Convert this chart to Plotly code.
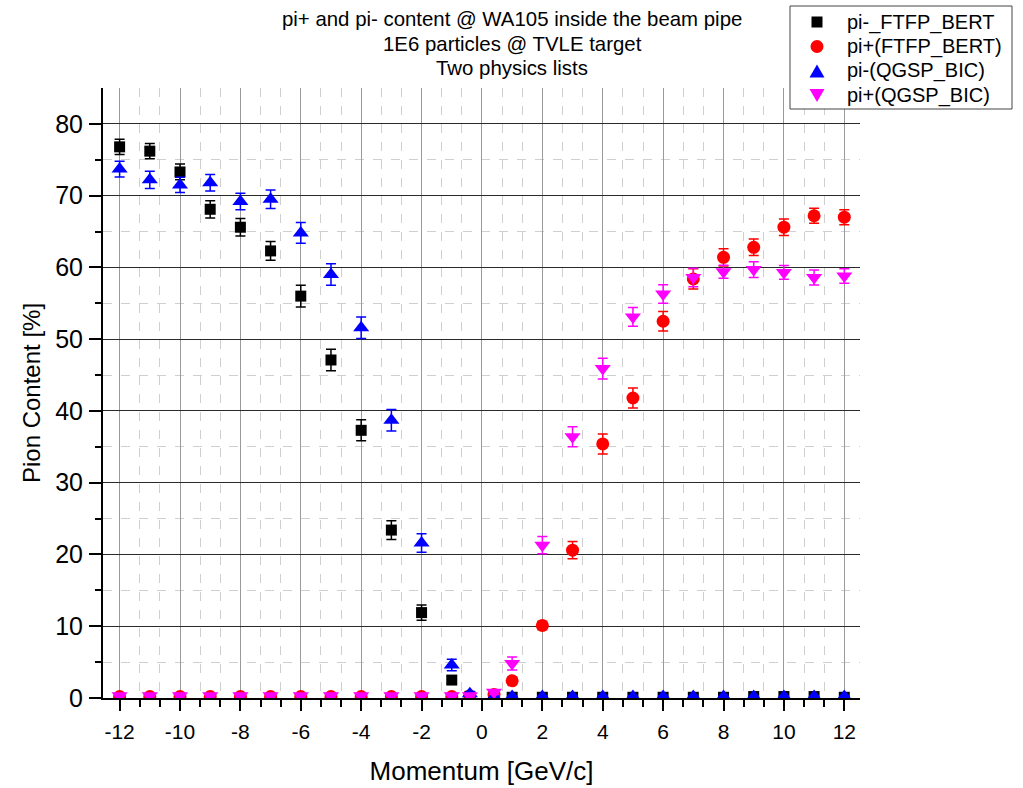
import numpy as np
import plotly.graph_objects as go

# Momentum settings [GeV/c]
momentum = [-12, -11, -10, -9, -8, -7, -6, -5, -4, -3, -2, -1, -0.4,
            0.4, 1, 2, 3, 4, 5, 6, 7, 8, 9, 10, 11, 12]

# Pion content [%] for each physics list
pim_ftfp = [76.8, 76.2, 73.3, 68.1, 65.6, 62.3, 56.0, 47.1, 37.3, 23.4, 11.9, 2.5, 0.2,
            0.1, 0.1, 0.1, 0.1, 0.1, 0.1, 0.1, 0.1, 0.1, 0.2, 0.2, 0.2, 0.1]
pim_ftfp_err = [1.05, 1.05, 1.1, 1.2, 1.23, 1.3, 1.5, 1.5, 1.46, 1.3, 1.05, 0.5, 0.1,
                0.1, 0.1, 0.1, 0.1, 0.1, 0.1, 0.1, 0.1, 0.1, 0.1, 0.1, 0.1, 0.1]

pip_ftfp = [0.2, 0.2, 0.2, 0.2, 0.2, 0.2, 0.2, 0.2, 0.2, 0.2, 0.2, 0.2, 0.3,
            0.5, 2.4, 10.1, 20.6, 35.4, 41.8, 52.5, 58.4, 61.4, 62.8, 65.6, 67.2, 67.0]
pip_ftfp_err = [0.1, 0.1, 0.1, 0.1, 0.1, 0.1, 0.1, 0.1, 0.1, 0.1, 0.1, 0.1, 0.1,
                0.2, 0.5, 0.6, 1.2, 1.4, 1.4, 1.35, 1.4, 1.2, 1.15, 1.15, 1.05, 1.05]

pim_qgsp = [73.7, 72.2, 71.5, 71.8, 69.2, 69.5, 64.8, 59.0, 51.6, 38.7, 21.6, 4.6, 0.6,
            0.2, 0.2, 0.2, 0.2, 0.2, 0.2, 0.2, 0.2, 0.2, 0.2, 0.2, 0.2, 0.2]
pim_qgsp_err = [1.1, 1.2, 1.05, 1.15, 1.15, 1.3, 1.45, 1.5, 1.5, 1.5, 1.3, 0.8, 0.3,
                0.1, 0.1, 0.1, 0.1, 0.1, 0.1, 0.1, 0.1, 0.1, 0.1, 0.1, 0.1, 0.1]

pip_qgsp = [0.3, 0.3, 0.3, 0.3, 0.3, 0.3, 0.3, 0.3, 0.3, 0.3, 0.3, 0.3, 0.3,
            0.8, 4.8, 21.3, 36.4, 45.9, 53.1, 56.3, 58.6, 59.4, 59.7, 59.3, 58.6, 58.8]
pip_qgsp_err = [0.1, 0.1, 0.1, 0.1, 0.1, 0.1, 0.1, 0.1, 0.1, 0.1, 0.1, 0.1, 0.1,
                0.3, 0.9, 1.2, 1.4, 1.45, 1.3, 1.3, 1.3, 0.9, 1.1, 0.95, 1.05, 1.0]

x_tick_vals = [-12, -10, -8, -6, -4, -2, 0, 2, 4, 6, 8, 10, 12]
x_tick_text = ["-12", "-10", "-8", "-6", "-4", "-2", "0", "2", "4", "6", "8", "10", "12"]
y_tick_vals = [0, 10, 20, 30, 40, 50, 60, 70, 80]

title_lines = ["pi+ and pi- content @ WA105 inside the beam pipe",
               "1E6 particles @ TVLE target",
               "Two physics lists"]

FONT = "Liberation Sans, Arial, sans-serif"

series = [
    ("pi-_FTFP_BERT", pim_ftfp, pim_ftfp_err, "black", "square", 11),
    ("pi+(FTFP_BERT)", pip_ftfp, pip_ftfp_err, "#ff0000", "circle", 13),
    ("pi-(QGSP_BIC)", pim_qgsp, pim_qgsp_err, "#0000ff", "triangle-up", 14),
    ("pi+(QGSP_BIC)", pip_qgsp, pip_qgsp_err, "#ff00ff", "triangle-down", 14),
]

# page size and plot-area margins (pixels)
W, H = 1023, 788
L, R, T, B = 103, 163, 88, 90
pw, ph = W - L - R, H - T - B


def px(x):
    """page pixel column -> paper x"""
    return (x - L) / pw


def py(y):
    """page pixel row (from top) -> paper y"""
    return (H - B - y) / ph


fig = go.Figure()
for name, vals, errs, color, symbol, size in series:
    fig.add_trace(go.Scatter(
        x=momentum, y=vals, name=name, mode="markers", showlegend=False,
        marker=dict(symbol=symbol, size=size, color=color, line=dict(width=0)),
        error_y=dict(type="data", array=errs, visible=True, color=color,
                     thickness=1.5, width=5),
    ))

# Legend box in the top-right corner
leg_left, leg_right, leg_top, leg_bottom = 790, 1012, 6, 109
leg_rows = [22, 46.5, 71, 95.5]
kx, leg_text_x = 817, 845
fig.add_shape(type="rect", xref="paper", yref="paper",
              x0=px(leg_left), x1=px(leg_right), y0=py(leg_bottom), y1=py(leg_top),
              line=dict(color="#444444", width=1), fillcolor="white", layer="above")


def key_shape(symbol, color, cy):
    if symbol == "square":
        h = 5.5
        return dict(type="rect", x0=px(kx - h), x1=px(kx + h), y0=py(cy + h), y1=py(cy - h))
    if symbol == "circle":
        r = 6.5
        return dict(type="circle", x0=px(kx - r), x1=px(kx + r), y0=py(cy + r), y1=py(cy - r))
    hw, hh = 7.5, 6.5
    if symbol == "triangle-up":
        pts = [(kx - hw, cy + hh), (kx + hw, cy + hh), (kx, cy - hh)]
    else:
        pts = [(kx - hw, cy - hh), (kx + hw, cy - hh), (kx, cy + hh)]
    path = "M " + " L ".join(f"{px(a):.5f},{py(b):.5f}" for a, b in pts) + " Z"
    return dict(type="path", path=path)


for (name, _, _, color, symbol, _), row in zip(series, leg_rows):
    shp = key_shape(symbol, color, row)
    shp.update(xref="paper", yref="paper", fillcolor=color,
               line=dict(width=0, color=color), layer="above")
    fig.add_shape(**shp)
    fig.add_annotation(text=name, xref="paper", yref="paper", x=px(leg_text_x), y=py(row),
                       xanchor="left", yanchor="middle", showarrow=False,
                       font=dict(family=FONT, size=20, color="black"))

# three-line title centred over the page
for line, row in zip(title_lines, [19, 44, 68]):
    fig.add_annotation(text=line, xref="paper", yref="paper", x=px(512), y=py(row),
                       xanchor="center", yanchor="middle", showarrow=False,
                       font=dict(family=FONT, size=20.4, color="black"))

x_minor = [v for v in np.arange(-12, 12.01, 2 / 3) if abs(v / 2 - round(v / 2)) > 0.05]
y_minor = [5, 15, 25, 35, 45, 55, 65, 75]

fig.update_layout(
    xaxis=dict(
        range=[-12.55, 12.52], tickmode="array", tickvals=x_tick_vals, ticktext=x_tick_text,
        showline=True, linecolor="black", linewidth=2, zeroline=False,
        ticks="outside", ticklen=11, tickwidth=2, tickcolor="black",
        showgrid=True, gridcolor="#9a9a9a", gridwidth=1,
        tickfont=dict(family=FONT, size=21, color="black"), ticklabelstandoff=3,
        title=dict(text="Momentum [GeV/c]", font=dict(family=FONT, size=26, color="black"),
                   standoff=20),
        minor=dict(tickmode="array", tickvals=x_minor, ticks="outside", ticklen=7,
                   tickwidth=2, tickcolor="black", showgrid=True, gridcolor="#cfcfcf",
                   griddash="dash", gridwidth=1),
    ),
    yaxis=dict(
        range=[0, 85], tickmode="array", tickvals=y_tick_vals,
        showline=True, linecolor="black", linewidth=2, zeroline=False,
        ticks="outside", ticklen=12, tickwidth=2, tickcolor="black",
        showgrid=True, gridcolor="#2a2a2a", gridwidth=1.2,
        tickfont=dict(family=FONT, size=25, color="black"), ticklabelstandoff=1,
        title=dict(text="Pion Content [%]", font=dict(family=FONT, size=24, color="black"),
                   standoff=8),
        minor=dict(tickmode="array", tickvals=y_minor, ticks="outside", ticklen=6,
                   tickwidth=2, tickcolor="black", showgrid=True, gridcolor="#cfcfcf",
                   griddash="dash", gridwidth=1),
    ),
    width=W, height=H,
    margin=dict(l=L, r=R, t=T, b=B, autoexpand=False),
    paper_bgcolor="white", plot_bgcolor="white",
    font=dict(family=FONT, color="black"),
    showlegend=False,
)

fig.write_html("out.html")
